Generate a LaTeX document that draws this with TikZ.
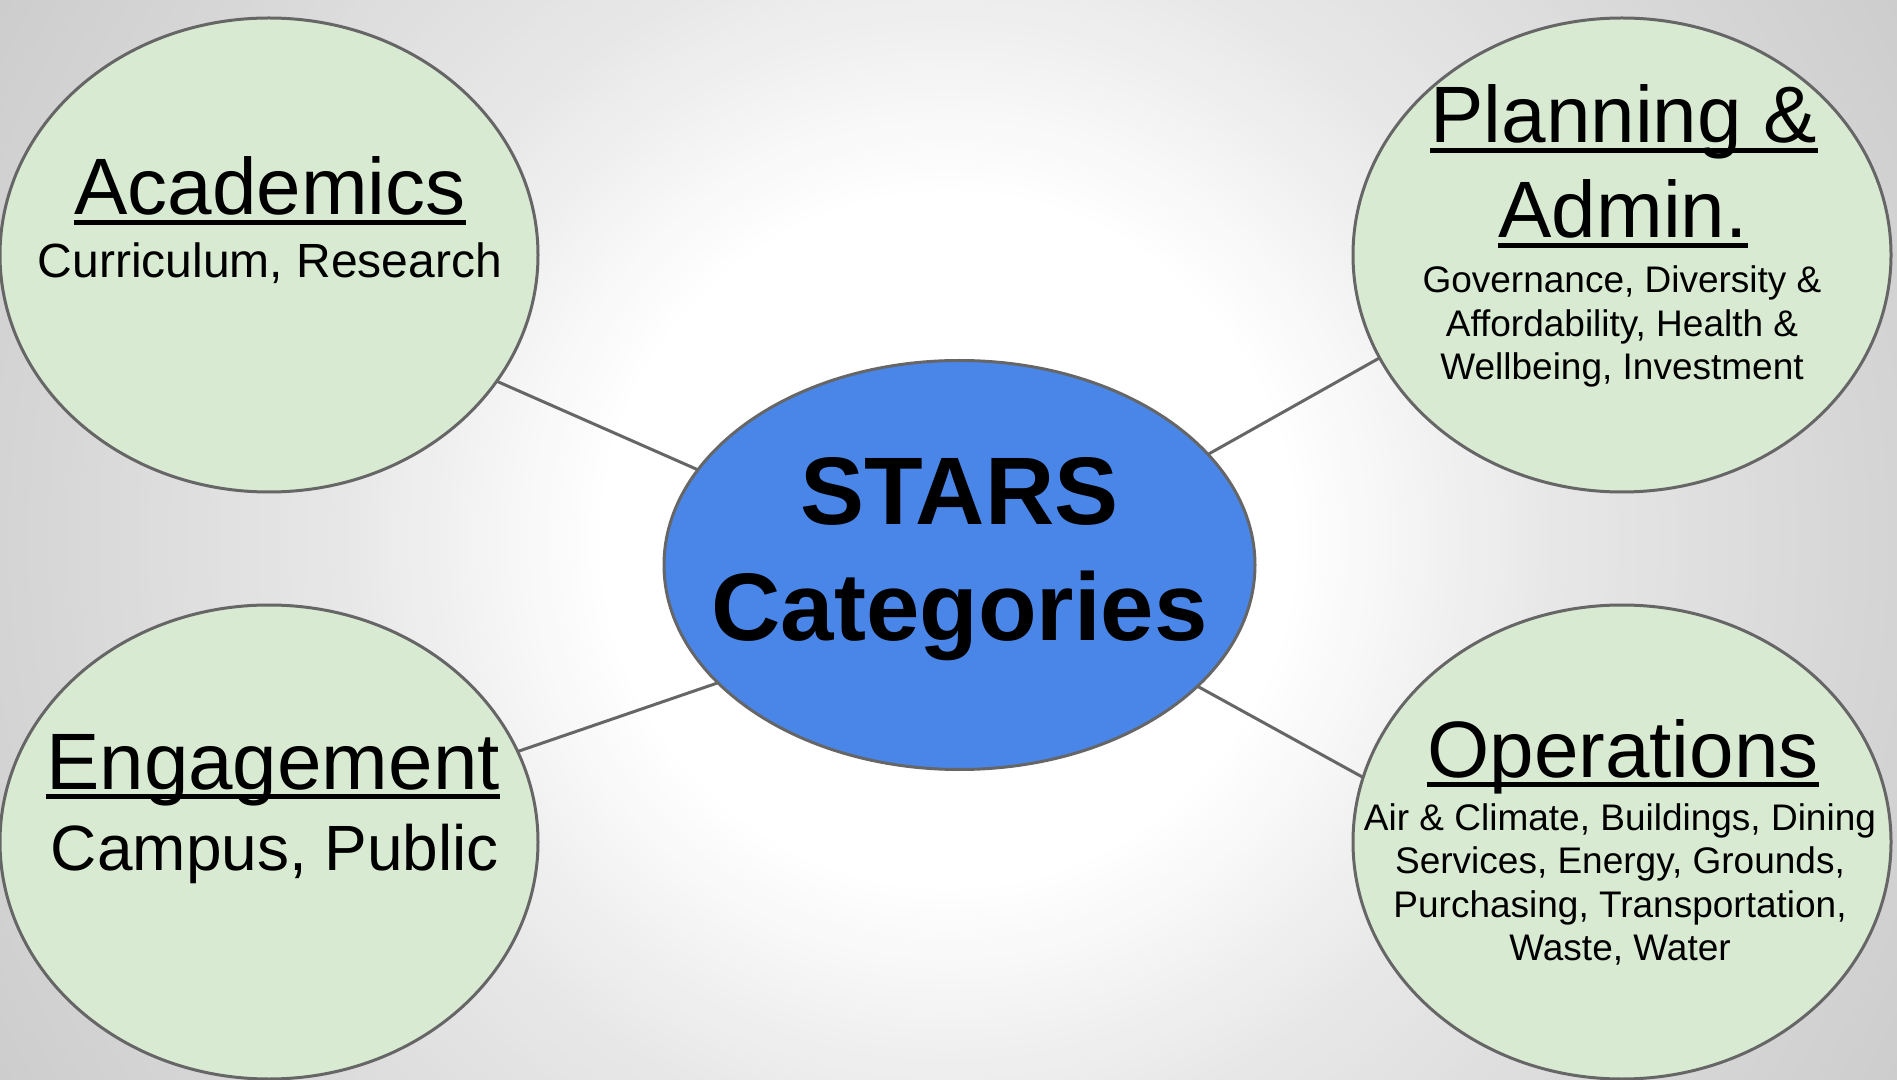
\documentclass[tikz,border=0pt]{standalone}
\usepackage{fontspec}
\setmainfont{Liberation Sans}
\usetikzlibrary{shapes.geometric}
\definecolor{nodegreen}{HTML}{D9EAD3}
\definecolor{starsblue}{HTML}{4A86E8}
\definecolor{edgegray}{HTML}{666666}
\begin{document}
\begin{tikzpicture}[x=0.5pt,y=-0.5pt,
  cat/.style={ellipse, draw=edgegray, line width=1.5pt, fill=nodegreen,
    minimum width=269pt, minimum height=237pt, inner sep=0pt, outer sep=0pt},
  hub/.style={ellipse, draw=edgegray, line width=1.5pt, fill=starsblue,
    minimum width=295.5pt, minimum height=204.5pt, inner sep=0pt, outer sep=0pt},
  cattitle/.style={anchor=base, inner sep=0pt, font=\fontsize{40pt}{48pt}\selectfont},
  catsub/.style={anchor=base, inner sep=0pt, font=\fontsize{18.5pt}{22pt}\selectfont},
  acadsub/.style={anchor=base, inner sep=0pt, font=\fontsize{24pt}{28pt}\selectfont},
  engsub/.style={anchor=base, inner sep=0pt, font=\fontsize{32pt}{37pt}\selectfont},
  hubtext/.style={anchor=base, inner sep=0pt, font=\fontsize{48pt}{57pt}\selectfont\bfseries},
  uline/.style={line width=2.8pt, black},
  link/.style={draw=edgegray, line width=1.5pt}]
\useasboundingbox (0,0) rectangle (1897,1080);
% radial background: concentric bands, white centre to grey edges
\begin{scope}
  \clip (0,0) rectangle (1897,1080);
  \fill[white] (0,0) rectangle (1897,1080);
  \foreach \r in {1120,1110,...,340}{
    \pgfmathtruncatemacro{\g}{round(255 - 0.092*min(max(\r-350,0),250) - 0.0571*min(max(\r-600,0),350) - 0.0467*max(\r-950,0))}
    \definecolor{bandcol}{RGB}{\g,\g,\g}
    \fill[bandcol] (948.5,540) circle[radius=\r];
  }
\end{scope}

% category ellipses
\node[cat] (acad) at (269,255) {};
\node[cat] (plan) at (1622,255) {};
\node[cat] (eng) at (269,842) {};
\node[cat] (ops) at (1622,842) {};
\node[hub] (stars) at (959.5,565) {};

% connectors
\draw[link] (acad.-29.4) -- (stars.160.7);
\draw[link] (plan.-157.9) -- (stars.24.3);
\draw[link] (eng.20.1) -- (stars.206.8);
\draw[link] (ops.166.1) -- (stars.-27);

% hub text
\node[hubtext] (starsA) at (959.5,525) {STARS};
\node[hubtext] (starsB) at (959.5,640) {Categories};

% Academics
\node[cattitle] (acadT) at (270,215) {Academics};
\draw[uline] ([yshift=-3.8pt]acadT.base west) -- ([yshift=-3.8pt]acadT.base east);
\node[acadsub] (acadS) at (270,278) {Curriculum, Research};

% Planning & Admin.
\node[cattitle] (planT1) at (1624,143) {Planning \&};
\draw[uline] ([yshift=-3.8pt]planT1.base west) -- ([yshift=-3.8pt]planT1.base east);
\node[cattitle] (planT2) at (1623,238) {Admin.};
\draw[uline] ([yshift=-3.8pt]planT2.base west) -- ([yshift=-3.8pt]planT2.base east);
\node[catsub] (planS1) at (1622,293) {Governance, Diversity \&};
\node[catsub] (planS2) at (1622,337) {Affordability, Health \&};
\node[catsub] (planS3) at (1622,380) {Wellbeing, Investment};

% Engagement
\node[cattitle] (engT) at (273,789) {Engagement};
\draw[uline] ([yshift=-3.8pt]engT.base west) -- ([yshift=-3.8pt]engT.base east);
\node[engsub] (engS) at (275,870) {Campus, Public};

% Operations
\node[cattitle] (opsT) at (1623,777) {Operations};
\draw[uline] ([yshift=-3.8pt]opsT.base west) -- ([yshift=-3.8pt]opsT.base east);
\node[catsub] (opsS1) at (1620,830) {Air \& Climate, Buildings, Dining};
\node[catsub] (opsS2) at (1620,873) {Services, Energy, Grounds,};
\node[catsub] (opsS3) at (1620,917) {Purchasing, Transportation,};
\node[catsub] (opsS4) at (1620,960) {Waste, Water};
\end{tikzpicture}
\end{document}
